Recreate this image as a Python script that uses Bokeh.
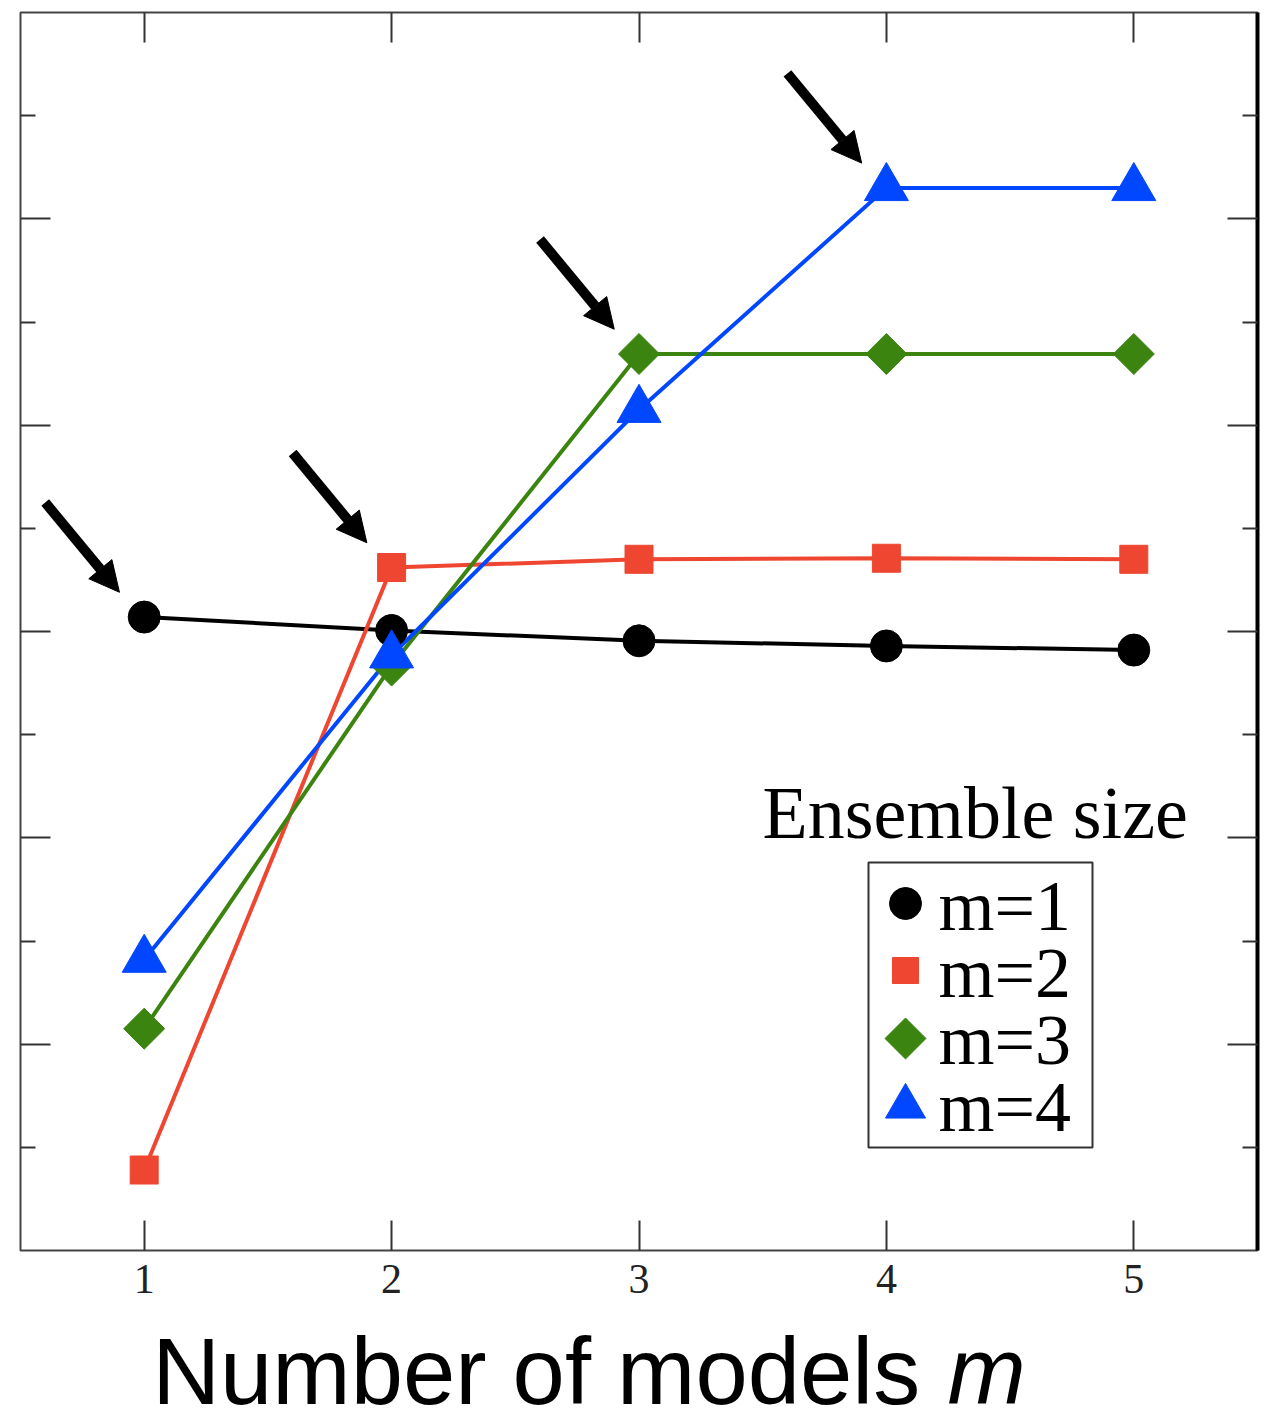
from bokeh.plotting import figure
from bokeh.layouts import column
from bokeh.models import (LinearAxis, FixedTicker, CustomJSTickFormatter, Label,
                          BoxAnnotation, Arrow, NormalHead, ColumnDataSource, Range1d)
from bokeh.core.properties import value
from bokeh.embed import file_html
from bokeh.resources import INLINE

# ---------------- data ----------------
models = [1, 2, 3, 4, 5]
m1 = [6.14, 6.01, 5.91, 5.86, 5.82]
m2 = [0.78, 6.62, 6.70, 6.71, 6.70]
m3 = [2.15, 5.67, 8.69, 8.69, 8.69]
m4 = [2.82, 5.77, 8.15, 10.30, 10.30]
series_names = ["m=1", "m=2", "m=3", "m=4"]
x_ticks = [1, 2, 3, 4, 5]
y_major = [2, 4, 6, 8, 10]
y_minor = [1, 3, 5, 7, 9, 11]
x_title = "Number of models"
x_title_var = "m"
legend_title = "Ensemble size"

colors = ["#000000", "#EE4630", "#3C8410", "#0047FF"]
markers = ["circle", "square", "square", "triangle"]
angles = [0, 0, 0.7853981634, 0]
sizes = [32, 28, 29, 44]
leg_sizes = [32, 26, 29, 40]

# ---------------- geometry ----------------
W = 1265
H_MAIN, H_TITLE = 1312, 114
FL, FT, FW, FH = 20, 12, 1237, 1238
X0, X1, Y0, Y1 = 0.5, 5.5, 0.0, 12.0
MID_SERIF = 0.3375   # baseline -> middle offset (em), Liberation Serif
MID_SANS = 0.3465    # Liberation Sans

def px2x(px):
    return X0 + (px - FL) / FW * (X1 - X0)

def px2y(py):
    return Y1 - (py - FT) / FH * (Y1 - Y0)

p = figure(width=W, height=H_MAIN, frame_width=FW, frame_height=FH,
           output_backend="svg", toolbar_location=None,
           x_range=Range1d(X0, X1), y_range=Range1d(Y0, Y1),
           x_axis_location=None, y_axis_location=None,
           min_border_left=FL, min_border_right=W - FL - FW,
           min_border_top=FT, min_border_bottom=H_MAIN - FT - FH)
p.grid.visible = False
p.background_fill_color = "white"
p.border_fill_color = "white"
p.outline_line_color = "#444444"
p.outline_line_width = 2

empty = CustomJSTickFormatter(code="return ''")

def mk_axis(kind, loc):
    if kind == "x":
        ax = LinearAxis(ticker=FixedTicker(ticks=x_ticks, minor_ticks=[]))
    else:
        ax = LinearAxis(ticker=FixedTicker(ticks=y_major, minor_ticks=y_minor))
    ax.major_tick_in = 30
    ax.major_tick_out = 0
    ax.minor_tick_in = 15
    ax.minor_tick_out = 0
    ax.major_tick_line_color = "#333333"
    ax.minor_tick_line_color = "#333333"
    ax.major_tick_line_width = 2
    ax.minor_tick_line_width = 2
    ax.axis_line_color = None
    ax.major_label_standoff = 0
    ax.axis_label_standoff = 0
    if loc != "below":
        ax.formatter = empty
        ax.major_label_text_font_size = "1px"
    p.add_layout(ax, loc)
    return ax

xb = mk_axis("x", "below")
xb.major_label_text_font = "Liberation Serif"
xb.major_label_text_font_size = "42px"
xb.major_label_text_color = "#222222"
xb.major_label_standoff = 14
mk_axis("x", "above")
mk_axis("y", "left")
yr = mk_axis("y", "right")
yr.axis_line_color = "black"
yr.axis_line_width = 4

# ---------------- series ----------------
all_series = [m1, m2, m3, m4]
for ys, c in zip(all_series, colors):
    p.line(models, ys, line_color=c, line_width=4)
for ys, c, mk, ang, sz in zip(all_series, colors, markers, angles, sizes):
    p.scatter(models, ys, marker=mk, angle=ang, size=sz, fill_color=c, line_color=c)

# ---------------- arrows at best points ----------------
ax_s, ay_s, ax_e, ay_e = [], [], [], []
for i, ys in enumerate(all_series):
    bx, by = models[i], ys[i]
    ax_s.append(bx - 0.40)
    ay_s.append(by + 1.11)
    ax_e.append(bx - 0.10)
    ay_e.append(by + 0.24)
arrow_src = ColumnDataSource(dict(xs=ax_s, ys=ay_s, xe=ax_e, ye=ay_e))
p.add_layout(Arrow(source=arrow_src, x_start="xs", y_start="ys", x_end="xe", y_end="ye",
                   line_color="black", line_width=10,
                   end=NormalHead(size=30, fill_color="black", line_color="black", line_width=1)))

# ---------------- legend (drawn by hand) ----------------
TS = 74
p.add_layout(Label(x=px2x(762), y=px2y(837 - MID_SERIF * TS), text=legend_title,
                   text_font="Liberation Serif", text_font_size=f"{TS}px",
                   text_color="black", text_baseline="middle", text_align="left"))
p.add_layout(BoxAnnotation(left=px2x(868), right=px2x(1092), top=px2y(862), bottom=px2y(1147),
                           fill_color=None, fill_alpha=0, line_color="#333333",
                           line_alpha=1, line_width=2))
row_y = [903, 970, 1038, 1106]
row_base = [930, 997, 1064, 1131]
LS = 72
for i in range(4):
    p.scatter([px2x(905)], [px2y(row_y[i])], marker=markers[i], angle=angles[i],
              size=leg_sizes[i], fill_color=colors[i], line_color=colors[i])
    p.add_layout(Label(x=px2x(938), y=px2y(row_base[i] - MID_SERIF * LS), text=series_names[i],
                       text_font="Liberation Serif", text_font_size=f"{LS}px",
                       text_color="black", text_baseline="middle", text_align="left"))

# ---------------- x axis title (own strip below) ----------------
t = figure(width=W, height=H_TITLE, output_backend="svg", toolbar_location=None,
           x_range=Range1d(0, W), y_range=Range1d(H_TITLE, 0),
           x_axis_location=None, y_axis_location=None,
           min_border=0, min_border_left=0, min_border_right=0,
           min_border_top=0, min_border_bottom=0)
t.grid.visible = False
t.outline_line_color = None
XS = 94
XFONT = "Liberation Sans"
base = 1404 - H_MAIN
ymid = base - MID_SANS * XS
t.text(x=[920], y=[ymid], text=[x_title], text_font=value(XFONT),
       text_font_size=f"{XS}px", text_align="right", text_baseline="middle", text_color="black")
t.text(x=[948], y=[ymid], text=[x_title_var], text_font=value(XFONT),
       text_font_size=f"{XS}px", text_font_style="italic", text_align="left",
       text_baseline="middle", text_color="black")

layout = column(p, t, spacing=0)
open("out.html", "w").write(file_html(layout, INLINE))
